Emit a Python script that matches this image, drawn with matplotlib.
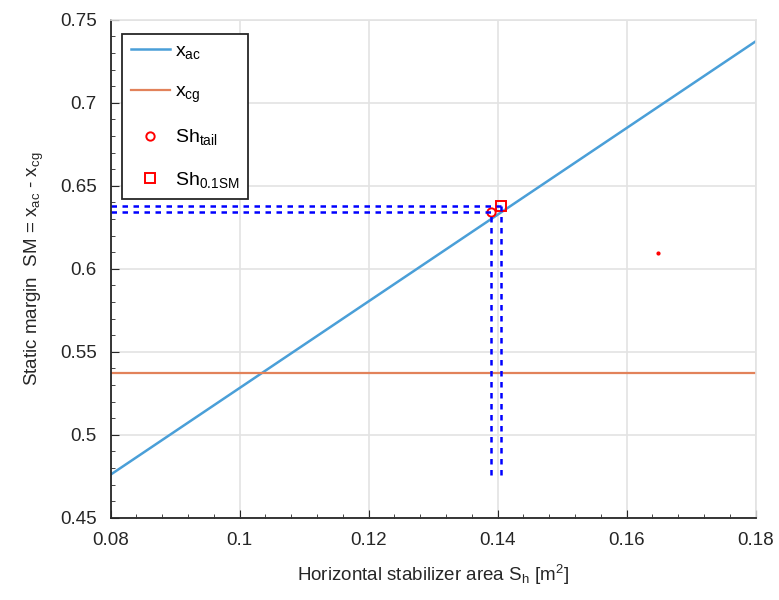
import numpy as np
import matplotlib.pyplot as plt
from matplotlib.ticker import MultipleLocator

plt.rcParams['font.family'] = ['Liberation Sans', 'DejaVu Sans']
plt.rcParams['mathtext.fontset'] = 'custom'
plt.rcParams['mathtext.rm'] = 'Liberation Sans'
plt.rcParams['mathtext.it'] = 'Liberation Sans'

# Horizontal stabilizer area sweep [m^2]
sh = [0.08, 0.18]
x_ac = [0.476, 0.737]   # aerodynamic centre
x_cg = [0.537, 0.537]   # centre of gravity

# chosen tail sizes
sh_tail = 0.139
sm_tail = 0.634
sh_01sm = 0.1406
sm_01sm = 0.638

# stray point
sh_dot = 0.1649
sm_dot = 0.6096

fig = plt.figure(figsize=(7.79, 6.00), dpi=100)
ax = fig.add_axes([0.142, 0.137, 0.828, 0.830])

ax.plot(sh, x_ac, color='#4a9fd8', lw=1.8, label=r'x$_{\mathregular{ac}}$')
ax.plot(sh, x_cg, color='#e2825a', lw=1.6, label=r'x$_{\mathregular{cg}}$')
ax.plot(sh_tail, sm_tail, 'o', mfc='none', mec='red', ms=6, mew=1.4,
        label=r'Sh$_{\mathregular{tail}}$')
ax.plot(sh_01sm, sm_01sm, 's', mfc='none', mec='red', ms=7, mew=1.4,
        label=r'Sh$_{\mathregular{0.1SM}}$')

# guide lines down to the curve start and across to the y axis
y0 = x_ac[0]
for xs, ys in [(sh_tail, sm_tail), (sh_01sm, sm_01sm)]:
    ax.plot([xs, xs], [y0, ys], color='blue', lw=1.8, dashes=(2.2, 2.2))
    ax.plot([sh[0], xs], [ys, ys], color='blue', lw=1.8, dashes=(2.2, 2.2))

ax.plot(sh_dot, sm_dot, '.', color='red', ms=4)

ax.set_xlim(0.08, 0.18)
ax.set_ylim(0.45, 0.75)
ax.xaxis.set_major_locator(MultipleLocator(0.02))
ax.xaxis.set_minor_locator(MultipleLocator(0.004))
ax.yaxis.set_major_locator(MultipleLocator(0.05))
ax.yaxis.set_minor_locator(MultipleLocator(0.01))
ax.set_xticklabels([f'{v:g}' for v in ax.get_xticks()])
ax.set_yticklabels([f'{v:g}' for v in ax.get_yticks()])

ax.grid(True, which='major', color='#e3e3e3', lw=1.2)
ax.set_axisbelow(True)
for side in ['top', 'right']:
    ax.spines[side].set_color('#e3e3e3')
    ax.spines[side].set_linewidth(1.2)
for side in ['left', 'bottom']:
    ax.spines[side].set_color('#262626')
    ax.spines[side].set_linewidth(1.3)
ax.tick_params(which='both', direction='in', top=False, right=False,
               colors='#262626', labelsize=13.5, pad=10)
ax.tick_params(which='major', length=6)
ax.tick_params(which='minor', length=3)

ax.set_xlabel(r'Horizontal stabilizer area S$_{\mathregular{h}}$ [m$^{\mathregular{2}}$]',
              fontsize=13.5, color='#262626', labelpad=10)
ax.set_ylabel(r'Static margin  SM = x$_{\mathregular{ac}}$ - x$_{\mathregular{cg}}$',
              fontsize=13.5, color='#262626', labelpad=10)

leg = ax.legend(loc='upper left', bbox_to_anchor=(0.0175, 0.972), fontsize=14,
                fancybox=False, edgecolor='#262626', framealpha=1,
                handlelength=2.0, borderpad=0.45, labelspacing=1.15,
                handletextpad=0.3, borderaxespad=0)
leg.get_frame().set_linewidth(1.3)

plt.savefig('out.png', dpi=100)
